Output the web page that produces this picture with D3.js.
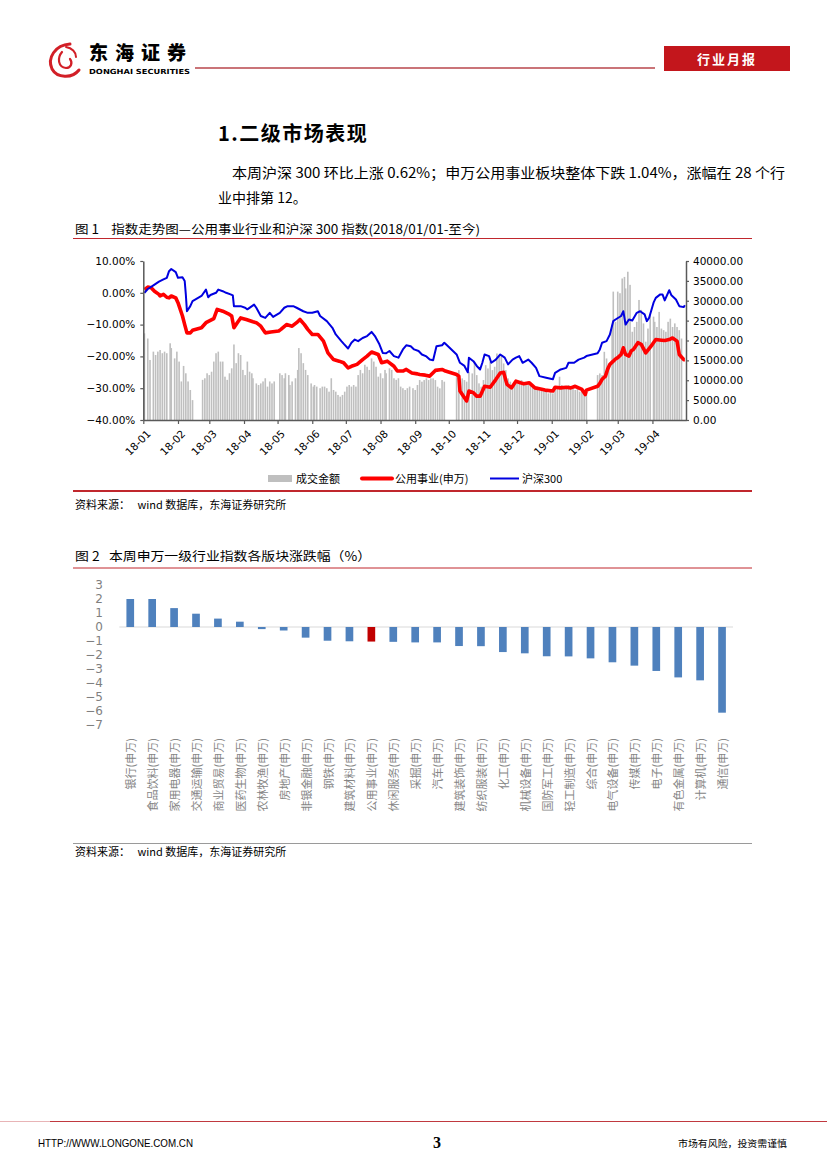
<!DOCTYPE html>
<meta charset="utf-8">
<title>行业月报</title>
<script src="https://d3js.org/d3.v7.min.js"></script>
<style>
  body { margin: 0; background: #fff; }
  svg text { font-family: "Noto Sans CJK SC", "DejaVu Sans", sans-serif; white-space: pre; }
</style>
<body>
<div id="page"></div>
<script>

// ---------- chart 1 data ----------
// 沪深300, % change since 2018-01-01
var hsDates = [
  "2018-01-02","2018-01-05","2018-01-09","2018-01-12","2018-01-15","2018-01-19","2018-01-22","2018-01-24","2018-01-26","2018-01-30",
  "2018-02-01","2018-02-05","2018-02-07","2018-02-08","2018-02-09","2018-02-12","2018-02-14","2018-02-22","2018-02-26","2018-02-28",
  "2018-03-02","2018-03-07","2018-03-09","2018-03-13","2018-03-16","2018-03-20","2018-03-22","2018-03-23","2018-03-29",
  "2018-04-02","2018-04-04","2018-04-10","2018-04-12","2018-04-16","2018-04-20","2018-04-24","2018-04-27",
  "2018-05-03","2018-05-07","2018-05-10","2018-05-15","2018-05-18","2018-05-24","2018-05-28",
  "2018-06-01","2018-06-06","2018-06-08","2018-06-14","2018-06-19","2018-06-22","2018-06-27","2018-06-29",
  "2018-07-03","2018-07-06","2018-07-09","2018-07-12","2018-07-16","2018-07-20","2018-07-24","2018-07-27","2018-07-31",
  "2018-08-03","2018-08-06","2018-08-09","2018-08-13","2018-08-17","2018-08-21","2018-08-24","2018-08-28","2018-08-31",
  "2018-09-04","2018-09-07","2018-09-11","2018-09-14","2018-09-17","2018-09-20","2018-09-25","2018-09-27","2018-09-28",
  "2018-10-08","2018-10-11","2018-10-15","2018-10-18","2018-10-19","2018-10-23","2018-10-26","2018-10-29","2018-10-31",
  "2018-11-02","2018-11-06","2018-11-08","2018-11-12","2018-11-16","2018-11-20","2018-11-23","2018-11-27","2018-11-30",
  "2018-12-03","2018-12-06","2018-12-11","2018-12-14","2018-12-18","2018-12-21","2018-12-27",
  "2019-01-02","2019-01-04","2019-01-09","2019-01-14","2019-01-16","2019-01-21","2019-01-25","2019-01-30",
  "2019-02-01","2019-02-11","2019-02-13","2019-02-15","2019-02-19","2019-02-22","2019-02-25","2019-02-27",
  "2019-03-04","2019-03-06","2019-03-08","2019-03-11","2019-03-14","2019-03-18","2019-03-21","2019-03-25","2019-03-27","2019-03-29",
  "2019-04-02","2019-04-04","2019-04-08","2019-04-10","2019-04-12","2019-04-16","2019-04-18","2019-04-22","2019-04-25","2019-04-29","2019-04-30"
];
var hsValues = [
  0.0, 1.2, 2.1, 2.8, 3.5, 4.2, 4.7, 6.8, 7.5, 6.5,
  4.7, 4.9, 3.7, -0.5, -5.8, -4.2, -2.6, -1.0, 1.0, -1.4,
  -0.7, 0.0, 1.0, 0.5, 0.0, -0.5, -0.8, -4.2, -4.2,
  -4.7, -5.2, -3.7, -4.7, -7.3, -7.9, -6.3, -7.6,
  -6.3, -4.7, -4.2, -4.2, -4.7, -5.8, -6.3,
  -6.3, -5.8, -7.3, -8.9, -11.0, -13.1, -15.2, -16.0,
  -17.5, -15.7, -14.7, -15.2, -14.2, -13.6, -12.3, -13.6, -16.2,
  -18.9, -19.0, -18.3, -19.9, -20.4, -17.8, -16.5, -16.8, -17.8,
  -18.3, -19.4, -20.0, -21.0, -21.2, -16.8, -16.5, -15.7, -16.0,
  -19.4, -22.0, -23.0, -25.0, -20.4, -21.5, -23.0, -24.1, -22.0,
  -19.4, -19.9, -22.0, -21.0, -19.4, -20.4, -22.5, -21.0, -20.4,
  -19.9, -22.0, -21.0, -22.0, -23.6, -26.2, -26.7,
  -27.2, -25.2, -24.1, -23.6, -22.0, -22.0, -21.0, -20.4,
  -19.9, -19.0, -17.8, -15.7, -15.2, -13.1, -8.9, -8.4,
  -7.3, -5.8, -10.0, -8.4, -8.7, -6.3, -5.8, -6.8, -8.9, -7.9,
  -3.1, -1.6, -0.5, -0.5, -2.4, 0.8, -0.8, -2.1, -4.2, -4.5, -3.9
];

// 公用事业(申万), % change since 2018-01-01
var utilDates = [
  "2018-01-02","2018-01-05","2018-01-08","2018-01-11","2018-01-15","2018-01-16","2018-01-19","2018-01-22","2018-01-24","2018-01-26","2018-01-30",
  "2018-02-01","2018-02-05","2018-02-07","2018-02-09","2018-02-12","2018-02-14","2018-02-22","2018-02-26",
  "2018-03-05","2018-03-08","2018-03-13","2018-03-19","2018-03-21","2018-03-23","2018-03-26","2018-03-29",
  "2018-04-03","2018-04-09","2018-04-12","2018-04-16","2018-04-20","2018-04-25",
  "2018-05-02","2018-05-04","2018-05-09","2018-05-14","2018-05-18","2018-05-21","2018-05-25","2018-05-28",
  "2018-06-01","2018-06-06","2018-06-11","2018-06-15","2018-06-20","2018-06-25","2018-06-29",
  "2018-07-03","2018-07-06","2018-07-11","2018-07-16","2018-07-20","2018-07-24","2018-07-30",
  "2018-08-02","2018-08-07","2018-08-13","2018-08-16","2018-08-21","2018-08-24","2018-08-29",
  "2018-09-03","2018-09-05","2018-09-10","2018-09-14","2018-09-19","2018-09-25","2018-09-28",
  "2018-10-08","2018-10-10","2018-10-11","2018-10-15","2018-10-17","2018-10-19","2018-10-23","2018-10-26","2018-10-29",
  "2018-11-02","2018-11-07","2018-11-12","2018-11-16","2018-11-19","2018-11-22","2018-11-26","2018-11-30",
  "2018-12-04","2018-12-07","2018-12-12","2018-12-17","2018-12-21","2018-12-26",
  "2019-01-02","2019-01-04","2019-01-09","2019-01-14","2019-01-18","2019-01-22","2019-01-28","2019-01-31",
  "2019-02-01","2019-02-11","2019-02-13","2019-02-15","2019-02-18","2019-02-20","2019-02-22","2019-02-25","2019-02-27",
  "2019-03-01","2019-03-04","2019-03-06","2019-03-08","2019-03-11","2019-03-13","2019-03-15","2019-03-19","2019-03-22","2019-03-26","2019-03-28",
  "2019-04-01","2019-04-04","2019-04-09","2019-04-12","2019-04-16","2019-04-19","2019-04-23","2019-04-25","2019-04-29","2019-04-30"
];
var utilValues = [
  1.0, 1.8, 1.6, 0.5, -0.5, -1.0, -0.5, -1.4, -1.6, -1.0, -1.6,
  -3.1, -7.3, -10.0, -12.6, -12.6, -11.8, -11.0, -9.4,
  -8.1, -5.2, -5.8, -6.8, -7.3, -11.0, -9.4, -7.9,
  -8.4, -9.1, -9.4, -10.5, -12.6, -12.3,
  -12.0, -11.5, -10.0, -10.5, -9.4, -8.4, -10.0, -11.5,
  -13.1, -13.1, -15.2, -18.9, -21.0, -21.5, -22.0,
  -23.6, -23.1, -22.5, -21.0, -19.9, -18.6, -19.4,
  -22.0, -21.5, -23.1, -24.6, -24.6, -24.1, -25.2,
  -25.5, -25.7, -25.9, -26.2, -24.4, -24.1, -24.6,
  -25.7, -26.2, -30.9, -33.0, -34.0, -30.9, -31.4, -32.5, -32.5,
  -29.4, -29.7, -27.3, -25.2, -25.0, -28.8, -29.9, -27.8,
  -28.3, -28.6, -28.3, -29.9, -30.2, -30.6,
  -30.9, -29.7, -29.9, -29.7, -29.9, -29.4, -30.4, -32.0,
  -30.6, -29.4, -28.5, -27.2, -26.2, -24.0, -22.5, -21.5, -20.8,
  -20.4, -19.4, -17.3, -19.4, -19.9, -18.3, -17.8, -15.7, -16.2, -18.9, -18.0,
  -16.2, -14.7, -14.9, -15.0, -14.7, -14.2, -15.2, -19.4, -21.0, -21.0
];

// 成交金额 (right axis)
var volDates = [
  "2018-01-02","2018-01-05","2018-01-07","2018-01-10","2018-01-12","2018-01-14","2018-01-16","2018-01-18","2018-01-20","2018-01-22",
  "2018-01-25","2018-01-26","2018-01-29","2018-01-31","2018-02-02","2018-02-04","2018-02-06","2018-02-08","2018-02-10","2018-02-12",
  "2018-02-14","2018-02-23","2018-02-25","2018-02-27","2018-03-01","2018-03-03","2018-03-05","2018-03-07","2018-03-09","2018-03-11",
  "2018-03-13","2018-03-15","2018-03-17","2018-03-19","2018-03-21","2018-03-23","2018-03-25","2018-03-27","2018-03-29","2018-03-31",
  "2018-04-02","2018-04-04","2018-04-06","2018-04-08","2018-04-09","2018-04-12","2018-04-14","2018-04-16","2018-04-18","2018-04-20",
  "2018-04-22","2018-04-24","2018-04-26","2018-04-28","2018-05-03","2018-05-05","2018-05-07","2018-05-08","2018-05-11","2018-05-12",
  "2018-05-14","2018-05-17","2018-05-19","2018-05-20","2018-05-22","2018-05-24","2018-05-26","2018-05-28","2018-05-31","2018-06-02",
  "2018-06-03","2018-06-05","2018-06-08","2018-06-10","2018-06-12","2018-06-14","2018-06-16","2018-06-18","2018-06-20","2018-06-22",
  "2018-06-24","2018-06-26","2018-06-28","2018-06-30","2018-07-02","2018-07-04","2018-07-06","2018-07-08","2018-07-10","2018-07-12",
  "2018-07-14","2018-07-16","2018-07-18","2018-07-20","2018-07-22","2018-07-24","2018-07-26","2018-07-28","2018-07-30","2018-08-01",
  "2018-08-03","2018-08-05","2018-08-06","2018-08-09","2018-08-11","2018-08-13","2018-08-15","2018-08-17","2018-08-19","2018-08-21",
  "2018-08-23","2018-08-25","2018-08-27","2018-08-30","2018-09-01","2018-09-03","2018-09-05","2018-09-07","2018-09-09","2018-09-11",
  "2018-09-13","2018-09-15","2018-09-17","2018-09-19","2018-09-21","2018-09-23","2018-09-25","2018-09-27","2018-10-08","2018-10-10",
  "2018-10-13","2018-10-15","2018-10-17","2018-10-19","2018-10-22","2018-10-24","2018-10-26","2018-10-28","2018-10-30","2018-11-01",
  "2018-11-03","2018-11-05","2018-11-07","2018-11-09","2018-11-11","2018-11-13","2018-11-15","2018-11-17","2018-11-19","2018-11-21",
  "2018-11-23","2018-11-25","2018-11-27","2018-11-29","2018-12-01","2018-12-03","2018-12-05","2018-12-07","2018-12-09","2018-12-11",
  "2018-12-13","2018-12-15","2018-12-17","2018-12-19","2018-12-21","2018-12-23","2018-12-25","2018-12-27","2018-12-29","2018-12-31",
  "2019-01-02","2019-01-04","2019-01-06","2019-01-08","2019-01-10","2019-01-12","2019-01-14","2019-01-16","2019-01-18","2019-01-20",
  "2019-01-22","2019-01-24","2019-01-26","2019-01-28","2019-01-30","2019-02-01","2019-02-11","2019-02-13","2019-02-15","2019-02-17",
  "2019-02-19","2019-02-21","2019-02-24","2019-02-25","2019-02-27","2019-03-01","2019-03-03","2019-03-05","2019-03-07","2019-03-08",
  "2019-03-10","2019-03-12","2019-03-14","2019-03-16","2019-03-18","2019-03-20","2019-03-22","2019-03-24","2019-03-26","2019-03-28",
  "2019-03-30","2019-04-02","2019-04-03","2019-04-05","2019-04-07","2019-04-09","2019-04-11","2019-04-13","2019-04-15","2019-04-17",
  "2019-04-19","2019-04-21","2019-04-23","2019-04-25","2019-04-27"
];
var volValues = [
  21800, 20500, 15100, 17200, 16350, 17200, 17600, 16800, 17200, 16800,
  19300, 18100, 15500, 17200, 14700, 9700, 13600, 11750, 9700, 7550,
  5000, 10100, 10500, 11750, 11300, 12150, 14700, 16800, 17200, 14700,
  14700, 10900, 10100, 11750, 13000, 19000, 14300, 16800, 16350, 12600,
  11300, 14700, 12150, 11750, 10500, 9200, 8800, 9200, 9700, 10500,
  8400, 9700, 9200, 9700, 11750, 11300, 10500, 11750, 11300, 8800,
  9700, 10500, 12600, 18100, 16800, 14300, 12600, 11300, 9200, 8400,
  8800, 8400, 8000, 8400, 8400, 8000, 7130, 10500, 7550, 7130,
  6300, 5870, 6300, 7130, 8400, 8800, 8400, 8800, 8400, 11300,
  12600, 11750, 13900, 13400, 12600, 15500, 14700, 13400, 10900, 11750,
  10500, 12600, 11750, 13000, 12600, 10500, 10100, 10500, 8400, 8000,
  7550, 8000, 8400, 8000, 7550, 8800, 10050, 9640, 10050, 10470,
  10050, 10470, 10470, 10050, 8380, 7970, 10050, 9640, 11720, 12550,
  10470, 10050, 9640, 12130, 11720, 14650, 11300, 9220, 8380, 10050,
  13800, 12970, 14650, 12550, 13390, 16740, 15900, 16320, 14230, 12550,
  10470, 9640, 8380, 8800, 9220, 9640, 10050, 9220, 8800, 9640,
  9220, 8800, 7970, 8380, 7550, 7970, 7550, 7130, 6710, 7130,
  6710, 8380, 7970, 10890, 8800, 8380, 7970, 8800, 8380, 7970,
  7550, 7970, 7130, 7970, 6710, 6290, 11300, 11720, 11300, 17160,
  15480, 13800, 24000, 32300, 24700, 32300, 31900, 35600, 36000, 33100,
  37300, 34000, 22200, 23400, 24700, 30200, 27700, 24300, 19700, 23000,
  26400, 26000, 24700, 23400, 27200, 23000, 22600, 22200, 24700, 25500,
  23400, 24300, 23400, 22600, 20500
];

var leftTicks = [10, 0, -10, -20, -30, -40];
var rightTicks = [40000, 35000, 30000, 25000, 20000, 15000, 10000, 5000, 0];
var monthTicks = ["2018-01-01","2018-02-01","2018-03-01","2018-04-01","2018-05-01","2018-06-01","2018-07-01","2018-08-01",
                  "2018-09-01","2018-10-01","2018-11-01","2018-12-01","2019-01-01","2019-02-01","2019-03-01","2019-04-01"];

// ---------- chart 2 data ----------
var industries = ["银行(申万)","食品饮料(申万)","家用电器(申万)","交通运输(申万)","商业贸易(申万)","医药生物(申万)","农林牧渔(申万)",
  "房地产(申万)","非银金融(申万)","钢铁(申万)","建筑材料(申万)","公用事业(申万)","休闲服务(申万)","采掘(申万)",
  "汽车(申万)","建筑装饰(申万)","纺织服装(申万)","化工(申万)","机械设备(申万)","国防军工(申万)","轻工制造(申万)",
  "综合(申万)","电气设备(申万)","传媒(申万)","电子(申万)","有色金属(申万)","计算机(申万)","通信(申万)"];
var weekChange = [2.0, 2.0, 1.35, 0.95, 0.6, 0.38, -0.15, -0.25, -0.76, -0.98, -1.02, -1.04, -1.06, -1.1,
  -1.1, -1.36, -1.37, -1.79, -1.88, -2.09, -2.1, -2.24, -2.52, -2.76, -3.14, -3.6, -3.81, -6.12];
var yTicks2 = [3, 2, 1, 0, -1, -2, -3, -4, -5, -6, -7];

// ---------- page ----------
var svg = d3.select("#page").append("svg").attr("width", 827).attr("height", 1170);
var parse = d3.timeParse("%Y-%m-%d");

function txt(x, y, s, size, opts) {
  opts = opts || {};
  var t = svg.append("text").attr("x", x).attr("y", y).text(s)
    .style("font-size", size + "px")
    .attr("fill", opts.fill || "#000");
  if (opts.weight) t.style("font-weight", opts.weight);
  if (opts.family) t.style("font-family", opts.family);
  if (opts.anchor) t.attr("text-anchor", opts.anchor);
  if (opts.len) t.attr("textLength", opts.len).attr("lengthAdjust", "spacingAndGlyphs");
  if (opts.spacing) t.style("letter-spacing", opts.spacing + "px");
  return t;
}

// header: logo
var logo = svg.append("g").attr("fill", "none").attr("stroke", "#d21f27").attr("stroke-linecap", "round");
logo.append("path").attr("d", "M70,44 C55,45 47,58 52,69 C57,78 72,79 79,70").attr("stroke-width", 3);
logo.append("path").attr("d", "M62,52 C57,58 58,67 66,68 C71,68 73,63 70,59").attr("stroke-width", 2.2);
logo.append("path").attr("d", "M66,47 C72,48 76,52 76,57").attr("stroke-width", 2);
txt(89, 60, "东海证券", 19, {weight: 900, spacing: 7});
txt(89, 73.5, "DONGHAI SECURITIES", 7, {weight: "bold", family: "DejaVu Sans", len: 101});
svg.append("line").attr("x1", 195).attr("x2", 655).attr("y1", 68).attr("y2", 68)
  .attr("stroke", "#b8464b").attr("stroke-width", 1.5);
svg.append("rect").attr("x", 664).attr("y", 46).attr("width", 126).attr("height", 25).attr("fill", "#c3161c");
txt(727, 63.5, "行业月报", 13, {weight: "bold", fill: "#fff", anchor: "middle", spacing: 2});

// section text
txt(218, 141, "1.二级市场表现", 20, {weight: "bold", spacing: 1.5});
txt(232, 177.5, "本周沪深 300 环比上涨 0.62%；申万公用事业板块整体下跌 1.04%，涨幅在 28 个行", 14, {len: 553});
txt(218, 202.5, "业中排第 12。", 14);

// figure 1 caption
txt(75, 233.5, "图 1    指数走势图—公用事业行业和沪深 300 指数(2018/01/01-至今)", 12.5, {len: 405});
svg.append("line").attr("x1", 73).attr("x2", 752).attr("y1", 238.5).attr("y2", 238.5)
  .attr("stroke", "#c0272d").attr("stroke-width", 1);

// ---------- chart 1 ----------
var x1 = d3.scaleTime().domain([parse("2018-01-01"), parse("2019-05-01")]).range([143.3, 686]);
var yL = d3.scaleLinear().domain([-40, 10]).range([420, 261]);
var yR = d3.scaleLinear().domain([0, 40000]).range([420, 261]);

var c1 = svg.append("g");

c1.append("g").selectAll("rect")
  .data(volDates.map(function (d, i) { return {date: parse(d), v: volValues[i]}; }))
  .enter().append("rect")
  .attr("x", function (d) { return x1(d.date) - 0.8; })
  .attr("width", 1.6)
  .attr("y", function (d) { return yR(d.v); })
  .attr("height", function (d) { return yR(0) - yR(d.v); })
  .attr("fill", "#bfbfbf");

var line1 = d3.line()
  .x(function (d) { return x1(d.date); })
  .y(function (d) { return yL(d.v); });

c1.append("path")
  .datum(utilDates.map(function (d, i) { return {date: parse(d), v: utilValues[i]}; }))
  .attr("d", line1).attr("fill", "none").attr("stroke", "#ff0000")
  .attr("stroke-width", 3.6).attr("stroke-linejoin", "round");

c1.append("path")
  .datum(hsDates.map(function (d, i) { return {date: parse(d), v: hsValues[i]}; }))
  .attr("d", line1).attr("fill", "none").attr("stroke", "#0000e0")
  .attr("stroke-width", 2).attr("stroke-linejoin", "round");

function styleAxis(g) {
  g.selectAll(".domain").attr("stroke", "#595959").attr("stroke-width", 1.5);
  g.selectAll(".tick line").attr("stroke", "#595959").attr("stroke-width", 1.2);
  g.selectAll("text").attr("fill", "#000").style("font-family", "DejaVu Sans").style("font-size", "10.5px");
}

var gL = c1.append("g").attr("transform", "translate(143.3,0)")
  .call(d3.axisLeft(yL).tickValues(leftTicks).tickFormat(function (d) { return d3.format(".2f")(d) + "%"; })
    .tickSize(3).tickSizeOuter(0).tickPadding(5));
styleAxis(gL);

var gR = c1.append("g").attr("transform", "translate(686,0)")
  .call(d3.axisRight(yR).tickValues(rightTicks).tickFormat(d3.format(".2f"))
    .tickSize(3).tickSizeOuter(0).tickPadding(4));
styleAxis(gR);

var gB = c1.append("g").attr("transform", "translate(0,420)")
  .call(d3.axisBottom(x1).tickValues(monthTicks.map(parse)).tickFormat(d3.timeFormat("%y-%m"))
    .tickSize(4).tickSizeOuter(0));
styleAxis(gB);
gB.selectAll("text")
  .attr("x", 0).attr("y", 0).attr("dy", "0.35em")
  .attr("text-anchor", "end")
  .attr("transform", "translate(5,12) rotate(-45)");

// legend
svg.append("rect").attr("x", 268).attr("y", 475).attr("width", 24).attr("height", 7).attr("fill", "#bfbfbf");
txt(296, 482.5, "成交金额", 11);
svg.append("line").attr("x1", 362).attr("x2", 392).attr("y1", 478.5).attr("y2", 478.5)
  .attr("stroke", "#ff0000").attr("stroke-width", 4).attr("stroke-linecap", "round");
txt(395, 482.5, "公用事业(申万)", 11);
svg.append("line").attr("x1", 490).attr("x2", 519).attr("y1", 478.5).attr("y2", 478.5)
  .attr("stroke", "#0000e0").attr("stroke-width", 2);
txt(522, 482.5, "沪深300", 11);

svg.append("line").attr("x1", 73).attr("x2", 752).attr("y1", 491).attr("y2", 491)
  .attr("stroke", "#c0272d").attr("stroke-width", 2);
txt(75, 509, "资料来源：   wind 数据库，东海证券研究所", 11);

// ---------- chart 2 ----------
txt(75, 561, "图 2   本周申万一级行业指数各版块涨跌幅（%）", 12.5, {len: 296});
svg.append("line").attr("x1", 73).attr("x2", 752).attr("y1", 568).attr("y2", 568)
  .attr("stroke", "#c0272d").attr("stroke-width", 1);

var x2 = d3.scaleBand().domain(industries).range([119.3, 733]).paddingInner(0.65).paddingOuter(0.325);
var y2 = d3.scaleLinear().domain([-7, 3]).range([725, 585]);

var c2 = svg.append("g");

var gY2 = c2.append("g").attr("transform", "translate(103,0)")
  .call(d3.axisLeft(y2).tickValues(yTicks2).tickFormat(d3.format("d")).tickSize(0).tickPadding(0));
gY2.select(".domain").remove();
gY2.selectAll("text").attr("fill", "#7f7f7f").style("font-family", "DejaVu Sans").style("font-size", "12px");

c2.append("line").attr("x1", 119.3).attr("x2", 733).attr("y1", y2(0)).attr("y2", y2(0))
  .attr("stroke", "#d9d9d9").attr("stroke-width", 1);

c2.append("g").selectAll("rect")
  .data(industries.map(function (d, i) { return {name: d, v: weekChange[i]}; }))
  .enter().append("rect")
  .attr("x", function (d) { return x2(d.name); })
  .attr("width", x2.bandwidth())
  .attr("y", function (d) { return y2(Math.max(0, d.v)); })
  .attr("height", function (d) { return Math.abs(y2(d.v) - y2(0)); })
  .attr("fill", function (d) { return d.name === "公用事业(申万)" ? "#c00000" : "#4f81bd"; });

c2.append("g").selectAll("text")
  .data(industries)
  .enter().append("text")
  .attr("transform", function (d) { return "translate(" + (x2(d) + x2.bandwidth() / 2) + ",738) rotate(-90)"; })
  .attr("text-anchor", "end")
  .attr("dominant-baseline", "central")
  .attr("fill", "#858585")
  .style("font-size", "11px")
  .text(function (d) { return d; });

svg.append("line").attr("x1", 73).attr("x2", 752).attr("y1", 843.5).attr("y2", 843.5)
  .attr("stroke", "#9a9a9a").attr("stroke-width", 1);
txt(75, 856, "资料来源：   wind 数据库，东海证券研究所", 11);

// ---------- footer ----------
svg.append("line").attr("x1", 0).attr("x2", 50).attr("y1", 1121.5).attr("y2", 1121.5)
  .attr("stroke", "#e8b4b6").attr("stroke-width", 1);
svg.append("line").attr("x1", 50).attr("x2", 827).attr("y1", 1121.5).attr("y2", 1121.5)
  .attr("stroke", "#c0393f").attr("stroke-width", 1);
txt(38, 1147, "HTTP://WWW.LONGONE.COM.CN", 10.5, {family: "Liberation Sans Narrow, Liberation Sans", len: 155});
txt(437, 1148, "3", 16, {family: "Liberation Serif", weight: "bold", anchor: "middle"});
txt(678, 1146.5, "市场有风险，投资需谨慎", 9.5, {len: 109});

</script>
</body>
